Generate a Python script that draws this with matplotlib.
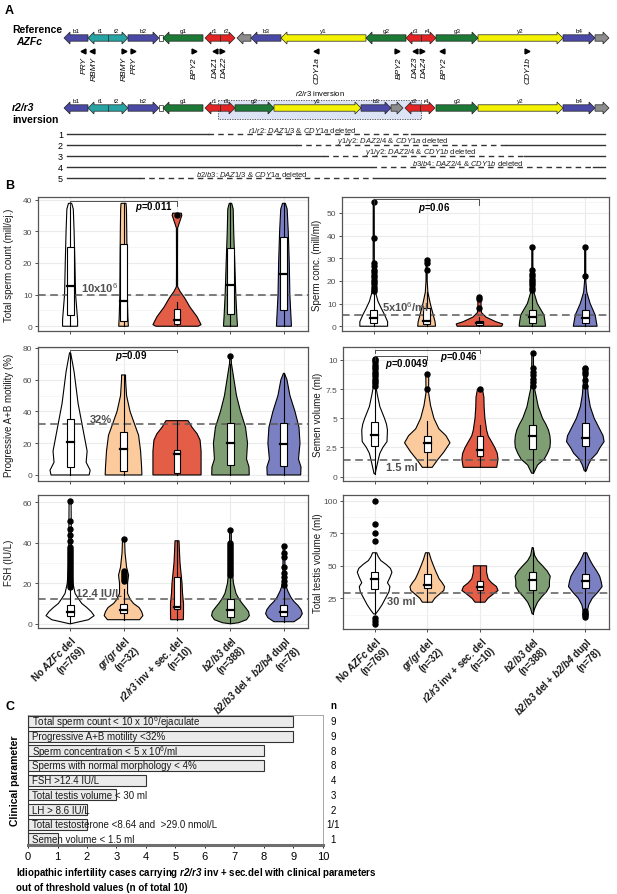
import numpy as np
import matplotlib
matplotlib.use('Agg')
import matplotlib.pyplot as plt
from matplotlib.patches import Polygon, Rectangle

plt.rcParams['font.family'] = ['Liberation Sans', 'DejaVu Sans']
plt.rcParams['mathtext.fontset'] = 'custom'
plt.rcParams['mathtext.rm'] = 'Liberation Sans'
plt.rcParams['mathtext.it'] = 'Liberation Sans:italic'
plt.rcParams['mathtext.bf'] = 'Liberation Sans:bold'
plt.rcParams['mathtext.bfit'] = 'Liberation Sans:italic:bold'

# ---------------- panel A: AZFc structure (schematic coordinates) ----------------
ROW1 = [('b1', 64, 88, 'b', 'L'), ('t1|t2', 88, 128, 't', 'LR'), ('b2', 128, 159, 'b', 'R'),
        ('', 159, 163, 'w', 'box'), ('g1', 163, 203, 'g', 'L'), ('r1|r2', 205, 235, 'r', 'LR'),
        ('', 237, 251, 'k', 'L'), ('b3', 251, 281, 'b', 'L'), ('y1', 281, 366, 'y', 'L'),
        ('g2', 366, 406, 'g', 'L'), ('r3|r4', 406, 436, 'r', 'LR'), ('g3', 436, 478, 'g', 'R'),
        ('y2', 478, 563, 'y', 'R'), ('b4', 563, 595, 'b', 'R'), ('', 595, 609, 'k', 'R')]
ROW2 = [('b1', 64, 88, 'b', 'L'), ('t1|t2', 88, 128, 't', 'LR'), ('b2', 128, 159, 'b', 'R'),
        ('', 159, 163, 'w', 'box'), ('g1', 163, 203, 'g', 'L'), ('r1|r3', 205, 235, 'r', 'LR'),
        ('g2', 235, 274, 'g', 'R'), ('y1', 274, 361, 'y', 'R'), ('b3', 361, 391, 'b', 'R'),
        ('', 391, 403, 'k', 'R'), ('r2|r4', 405, 435, 'r', 'LR'), ('g3', 436, 478, 'g', 'R'),
        ('y2', 478, 563, 'y', 'R'), ('b4', 563, 595, 'b', 'R'), ('', 595, 609, 'k', 'R')]
GENE_X = [84, 94, 124, 134, 194, 215, 224, 317, 399, 415, 424, 444, 528]
GENE_NAMES = ['PRY', 'RBMY', 'RBMY', 'PRY', 'BPY2', 'DAZ1', 'DAZ2', 'CDY1a', 'BPY2',
              'DAZ3', 'DAZ4', 'BPY2', 'CDY1b']
TRI_X = [83, 92, 124, 133, 194, 215, 222, 316, 397, 415, 422, 442, 527]
TRI_DIR = ['<', '<', '>', '>', '>', '<', '>', '<', '>', '<', '>', '<', '>']
INV_START, INV_END = 218, 421

DEL_ID = ['1', '2', '3', '4', '5']
DEL_START = [208, 296, 323, 371, 139]
DEL_END = [411, 506, 524, 593, 373]
DEL_LABX = [302, 393, 421, 468, 252]
DEL_TEXT = [r'$\mathit{r1/r2}$: $\mathit{DAZ1/3}$ & $\mathit{CDY1a}$ deleted',
            r'$\mathit{y1/y2}$: $\mathit{DAZ2/4}$ & $\mathit{CDY1a}$ deleted',
            r'$\mathit{y1/y2}$: $\mathit{DAZ2/4}$ & $\mathit{CDY1b}$ deleted',
            r'$\mathit{b3/b4}$: $\mathit{DAZ2/4}$ & $\mathit{CDY1b}$ deleted',
            r'$\mathit{b2/b3}$: $\mathit{DAZ1/3}$ & $\mathit{CDY1a}$ deleted']

GROUPS = [r'No $\mathbfit{AZFc}$ del' + '\n(n=769)', r'$\mathbfit{gr/gr}$ del' + '\n(n=32)',
          r'$\mathbfit{r2/r3}$ inv + sec. del' + '\n(n=10)', r'$\mathbfit{b2/b3}$ del' + '\n(n=388)',
          r'$\mathbfit{b2/b3}$ del + $\mathbfit{b2/b4}$ dupl' + '\n(n=78)']
GROUP_COLORS = ['#FFFFFF', '#FBCA9D', '#E35D47', '#809E73', '#7B80C3']

TSC_Y = [[0, 2, 10, 20, 30, 37, 38.8], [0, 3, 10, 20, 30, 37, 38.8],
         [0, 0.5, 3, 6, 9, 11, 12.5, 20, 31, 33, 35, 35.7],
         [0, 3, 10, 20, 30, 37, 38.8], [0, 3, 10, 20, 30, 37, 38.8]]
TSC_D = [[7.5, 7.5, 5.5, 4.8, 4, 3.2, 1.6], [4.8, 4.3, 3.7, 3.5, 3.2, 2.9, 2.5],
         [21, 24, 20, 13, 7.5, 3, 0.6, 0.5, 0.6, 2.7, 4.8, 4.3],
         [7, 6.4, 5.3, 4.3, 3.2, 2.7, 1.2], [7.5, 7, 5.9, 5.3, 4.3, 3.2, 1.4]]
TSC_BOX = [(0, 3.7, 12.8, 25, 38.8), (0, 1.5, 8, 26, 38.8), (0.5, 0.8, 2, 5.5, 7.5),
           (0, 4, 13, 24.8, 38.8), (0, 5, 16.5, 28.2, 38.8)]
TSC_OUT = [[], [], [35], [], []]

CONC_Y = [[0, 2, 5, 8, 11, 14, 17, 30, 55], [0, 2, 5, 10, 15, 20, 29],
          [0, 1, 2, 4, 6, 8, 10, 12, 13], [0, 2, 5, 10, 15, 20, 35], [0, 2, 5, 10, 15, 20, 35]]
CONC_D = [[14, 14, 11, 7.5, 4.3, 2.4, 0.8, 0.6, 0.5], [9, 8.5, 6.7, 3.7, 1.3, 0.6, 0.5],
          [22.5, 23.5, 16.5, 6.7, 2.1, 1.6, 1.6, 1.6, 0.5], [13.3, 12.8, 11.7, 5, 1.6, 0.6, 0.5],
          [12, 11.2, 10, 5, 1.6, 0.6, 0.5]]
CONC_BOX = [(0, 1.5, 3.5, 7, 14), (0, 1, 2.5, 8, 15), (0, 0.5, 1.5, 2.5, 4),
            (0, 1.5, 4, 7, 15), (0, 1.5, 3.5, 7, 14)]
CONC_OUT = [[15.5, 16.5, 17.5, 18.5, 19.5, 20.5, 21.5, 22.5, 24, 25, 26.5, 28, 39, 55],
            [25, 28, 29], [8, 12, 13], [16, 17, 18, 19, 20, 21, 22, 23, 25, 35], [22, 35]]

MOT_Y = [[0, 3, 8, 15, 25, 35, 45, 55, 65, 72, 77], [0, 5, 15, 25, 32, 40, 50, 60, 63],
         [0, 15, 22, 26, 30, 34.2], [0, 5, 10, 20, 30, 40, 50, 60, 70, 75],
         [0, 5, 10, 20, 30, 40, 50, 60, 64]]
MOT_D = [[19, 20, 16, 17, 14, 11, 8, 6, 4, 2, 0.5], [18.3, 18, 17, 15, 11, 6.5, 3, 2, 2],
         [24, 24, 23, 20, 15, 11], [18.7, 18.5, 16, 17, 15, 10, 6, 3.5, 1, 0.5],
         [16.7, 17, 14.5, 16, 15, 11, 6, 3, 0.5]]
MOT_BOX = [(0, 5, 21, 35, 77), (0, 2.5, 16.5, 27, 63), (0, 1.5, 13, 16, 34.2),
           (0, 6, 20, 33, 70), (0, 5.5, 19.5, 33, 64)]
MOT_OUT = [[], [], [], [75], []]

VOL_Y = [[0.25, 1, 1.5, 2, 2.5, 3, 3.5, 4, 4.5, 5, 6, 7, 7.5, 8.5, 10.1],
         [0.8, 1.4, 2.1, 2.9, 3.5, 4.1, 5, 6.1, 7.2, 8.8],
         [0.8, 1.5, 2, 2.5, 3, 3.5, 4, 5, 6, 6.8, 7.5],
         [0.3, 1, 1.5, 2, 2.5, 3, 3.5, 4, 4.5, 5, 6, 7, 7.5, 8.5, 10.6],
         [0.5, 1, 1.5, 2, 2.5, 3, 3.5, 4, 4.5, 5, 6, 7, 8, 9.3]]
VOL_D = [[0.5, 2.5, 3.8, 5.3, 8.3, 12.5, 12.8, 13, 12, 10, 5.3, 2.8, 1.7, 1, 0.8],
         [5, 10, 16.7, 23, 19, 11.7, 6.7, 3.3, 1.3, 1.5],
         [17, 18.3, 17.5, 15, 11.7, 8.3, 6.7, 5, 4.2, 4, 2.5],
         [1, 5, 11.7, 15, 17.5, 18, 17.5, 16, 13.3, 10, 5.7, 3.3, 2, 1, 0.8],
         [1, 3, 6, 11.7, 15, 19, 18, 15, 12, 9, 5, 3, 2, 1]]
VOL_BOX = [(0.25, 2.6, 3.6, 4.7, 7.6), (0.8, 2.1, 2.9, 3.5, 4.8), (0.8, 1.8, 2.3, 3.5, 4.4),
           (0.3, 2.4, 3.5, 4.4, 7.5), (0.5, 2.6, 3.3, 4.6, 7.5)]
VOL_OUT = [[7.8, 8.0, 8.2, 8.4, 8.6, 8.8, 9.0, 9.2, 9.4, 9.6, 9.8, 10.0, 10.1], [7.5, 8.8], [7.5],
           [7.8, 8.1, 8.4, 8.7, 9.0, 9.3, 10.6], [7.8, 8.3, 8.8, 9.0, 9.2, 9.3]]

FSH_Y = [[0, 0.5, 2, 4, 6, 8, 10, 12.4, 15, 20, 30, 45, 60.5],
         [2, 4, 6, 8, 10, 12, 15, 20, 24, 28, 35, 42],
         [2, 5, 10, 15, 20, 25, 30, 35, 41],
         [0, 0.5, 2, 4, 6, 8, 10, 12.4, 15, 20, 25, 35, 46.5],
         [1, 3, 5, 7, 9, 11, 13, 16, 18, 22, 30, 38.5]]
FSH_D = [[0.5, 5, 18.3, 24, 21, 16.7, 11.7, 8.3, 5, 2.8, 1.5, 1.2, 1],
         [16, 19.3, 18, 15.5, 10, 6.7, 4, 4, 5, 3, 1.5, 1],
         [6.3, 6.5, 6.5, 5.5, 5, 4, 3, 2.5, 2],
         [0.5, 8, 16, 18.8, 18, 15, 11.7, 8.3, 5.5, 3, 2, 1, 0.8],
         [10, 16, 18.3, 17, 14, 10, 7, 4, 2.5, 1, 1, 0.8]]
FSH_BOX = [(0.5, 4, 6, 9.5, 17), (2, 5.5, 7, 10, 17), (2, 7.5, 8.5, 23, 41),
           (0.5, 3.5, 7, 12, 23), (1, 4, 6, 9.5, 18)]
FSH_OUT = [[18, 19, 20, 21, 22, 23, 24, 25, 26, 27, 28, 29, 30, 31, 32, 33, 34, 35, 36, 37, 38,
            41, 44, 47, 51, 60.5],
           [21, 22, 23, 24, 25, 26, 42], [],
           [24, 25, 26, 27, 28, 29, 30, 31, 32, 33, 34, 35, 36, 37, 38, 39, 40, 46.5],
           [19, 21, 23, 25, 28, 33, 35, 38.5]]

TV_Y = [[13, 16, 20, 25, 30, 34, 37, 41, 45, 48, 51, 54, 57, 60],
        [22, 25, 28, 31, 34, 37, 40, 45, 50, 55, 60],
        [22, 25, 28, 31, 34, 37, 40, 45, 50],
        [13, 17, 22, 26, 30, 34, 38, 42, 46, 50, 54, 58, 64],
        [11, 15, 20, 25, 30, 34, 38, 42, 46, 50, 54, 58, 60]]
TV_D = [[1, 4, 7.5, 11, 14.5, 15.5, 13, 15.5, 17.5, 16, 11.7, 6.3, 3.7, 2],
        [5, 7.5, 12, 16.7, 17.5, 15, 12, 9, 6.3, 3.8, 1.8],
        [5, 8, 13, 18.3, 16.7, 11.7, 8.3, 6.7, 6.7],
        [0.5, 2, 5, 9, 14, 17, 17, 17.8, 14.7, 10, 5, 2, 0.5],
        [1, 2, 3.5, 7, 13, 17, 16, 14.5, 11.5, 8, 5, 2.5, 1.5]]
TV_BOX = [(13, 32, 40, 45.5, 60), (22, 33, 35, 44, 60), (22, 31, 34, 38, 50),
          (13, 31, 39, 45, 64), (16, 33, 38, 44, 60)]
TV_OUT = [[5, 7.5, 10, 69, 75, 82, 100], [], [], [], [11, 12, 13, 14, 15]]

# ---------------- panel C ----------------
C_LABELS = ['Total sperm count < 10 x 10$^6$/ejaculate', 'Progressive A+B motility <32%',
            'Sperm concentration < 5 x 10$^6$/ml', 'Sperms with normal morphology < 4%',
            'FSH >12.4 IU/L', 'Total testis volume < 30 ml', 'LH > 8.6 IU/L',
            'Total testosterone <8.64 and  >29.0 nmol/L', 'Semen volume < 1.5 ml']
C_VALUES = [9, 9, 8, 8, 4, 3, 2, 2, 1]
C_N = ['9', '9', '8', '8', '4', '3', '2', '1/1', '1']

W, H = 617, 895
fig = plt.figure(figsize=(W / 100, H / 100), dpi=100)


def px_axes(x0, y0, x1, y1):
    return fig.add_axes([x0 / W, 1 - y1 / H, (x1 - x0) / W, (y1 - y0) / H])


ov = fig.add_axes([0, 0, 1, 1])
ov.set_xlim(0, W)
ov.set_ylim(H, 0)
ov.axis('off')
ov.patch.set_visible(False)

SEG_COL = {'b': '#4A4AA6', 't': '#27A3A3', 'g': '#1C7A36', 'r': '#E32424', 'y': '#F3F200',
           'k': '#8C8C8C', 'w': '#FFFFFF'}


def gene_arrow(ax, x0, x1, y, col, kind):
    h, hh, hl = 3.2, 6.0, 6.0
    if kind == 'R':
        pts = [(x0, y - h), (x1 - hl, y - h), (x1 - hl, y - hh), (x1, y), (x1 - hl, y + hh),
               (x1 - hl, y + h), (x0, y + h)]
    elif kind == 'L':
        pts = [(x1, y - h), (x0 + hl, y - h), (x0 + hl, y - hh), (x0, y), (x0 + hl, y + hh),
               (x0 + hl, y + h), (x1, y + h)]
    elif kind == 'LR':
        pts = [(x0, y), (x0 + hl, y - hh), (x0 + hl, y - h), (x1 - hl, y - h), (x1 - hl, y - hh),
               (x1, y), (x1 - hl, y + hh), (x1 - hl, y + h), (x0 + hl, y + h), (x0 + hl, y + hh)]
    else:
        pts = [(x0, y - h), (x1, y - h), (x1, y + h), (x0, y + h)]
    ax.add_patch(Polygon(pts, closed=True, fc=SEG_COL[col], ec='#222222', lw=0.5, zorder=3))
    if kind == 'LR':
        xm = (x0 + x1) / 2
        ax.plot([xm, xm], [y - h, y + h], color='#222222', lw=0.5, zorder=4)


def draw_row(ax, row, y):
    for name, x0, x1, col, kind in row:
        gene_arrow(ax, x0, x1, y, col, kind)
        if not name:
            continue
        parts = name.split('|')
        if len(parts) == 1:
            ax.text((x0 + x1) / 2, y - 5.0, name, fontsize=4.5, ha='center', va='bottom', zorder=5)
        else:
            for frac, p in zip([0.3, 0.72], parts):
                ax.text(x0 + (x1 - x0) * frac, y - 5.0, p, fontsize=4.5, ha='center',
                        va='bottom', zorder=5)


ov.text(5, 11, 'A', fontsize=9, fontweight='bold', va='center')
ov.text(12, 30, 'Reference', fontsize=7.5, fontweight='bold', va='center')
ov.text(16, 42, 'AZFc', fontsize=7.5, fontweight='bold', style='italic', va='center')
draw_row(ov, ROW1, 39)
for x, d in zip(TRI_X, TRI_DIR):
    ov.plot(x, 52, marker=d, color='black', ms=3.5, ls='none')
for x, g in zip(GENE_X, GENE_NAMES):
    ov.text(x, 57, g, fontsize=6, style='italic', rotation=90, ha='center', va='top')

ov.text(12, 108, 'r2/r3', fontsize=7.5, fontweight='bold', style='italic', va='center')
ov.text(12, 120, 'inversion', fontsize=7.5, fontweight='bold', va='center')
ov.add_patch(Rectangle((INV_START, 101), INV_END - INV_START, 19, fc='#DCE3F4', ec='#444444',
                       lw=0.6, ls=(0, (1.5, 1.5)), zorder=1))
ov.text((INV_START + INV_END) / 2, 93.5, r'$\mathit{r2/r3}$ inversion', fontsize=5.5,
        ha='center', va='center')
draw_row(ov, ROW2, 109)

for i, (lab, s, e, lx, txt) in enumerate(zip(DEL_ID, DEL_START, DEL_END, DEL_LABX, DEL_TEXT)):
    yy = 135 + i * 11
    ov.text(63, yy, lab, fontsize=6.5, ha='right', va='center')
    ov.plot([67, s], [yy, yy], color='#333333', lw=1.0)
    ov.plot([s, e], [yy, yy], color='#333333', lw=1.0, ls=(0, (4, 3)))
    ov.plot([e, 605], [yy, yy], color='#333333', lw=1.0)
    ov.text(lx, yy - 4.5, txt, fontsize=5.5, ha='center', va='center', color='#222222')

ov.text(5, 186, 'B', fontsize=9, fontweight='bold', va='center')
ov.text(5, 707, 'C', fontsize=9, fontweight='bold', va='center')

PX_PER_CAT = 53.3
BOX_HW = 0.065


def violin_panel(ax, ys, ds, boxes, outs, ylim, yticks, ylabels, minors, thr, thr_txt,
                 thr_xy, ylabel, label_x, show_x):
    for i in range(5):
        c = i + 1
        y = np.array(ys[i], dtype=float)
        w = np.array(ds[i], dtype=float) / PX_PER_CAT
        xs = np.concatenate([c - w, (c + w)[::-1]])
        yv = np.concatenate([y, y[::-1]])
        ax.fill(xs, yv, fc=GROUP_COLORS[i], ec='black', lw=0.8, zorder=2)
        lo, q1, med, q3, hi = boxes[i]
        ax.plot([c, c], [lo, hi], color='black', lw=0.8, zorder=3)
        ax.add_patch(Rectangle((c - BOX_HW, q1), 2 * BOX_HW, q3 - q1, fc='white', ec='black',
                               lw=0.8, zorder=4))
        ax.plot([c - BOX_HW, c + BOX_HW], [med, med], color='black', lw=1.6, zorder=5)
        if outs[i]:
            ax.plot([c] * len(outs[i]), outs[i], 'o', color='black', ms=3.6, zorder=6)
    ax.axhline(thr, color='#5A5A5A', lw=1.1, ls=(0, (5, 3)), zorder=2.5)
    ax.text(thr_xy[0], thr_xy[1], thr_txt, fontsize=8, fontweight='bold', color='#505050',
            ha='left', va='center', zorder=7)
    ax.set_xlim(0.4, 5.45)
    ax.set_ylim(*ylim)
    ax.set_xticks(range(1, 6))
    ax.set_yticks(yticks)
    ax.set_yticklabels(ylabels)
    ax.set_yticks(minors, minor=True)
    ax.set_axisbelow(True)
    ax.grid(which='major', color='#EBEBEB', lw=0.8)
    ax.grid(which='minor', axis='y', color='#F3F3F3', lw=0.5)
    ax.tick_params(which='minor', length=0)
    ax.tick_params(which='major', length=2.5, width=0.6, color='#333333', labelsize=6,
                   labelcolor='#4D4D4D', pad=1.5)
    for sp in ax.spines.values():
        sp.set_color('#555555')
        sp.set_linewidth(0.9)
    ax.set_ylabel(ylabel, fontsize=7, color='#1A1A1A')
    ax.yaxis.set_label_coords(label_x, 0.5)
    if show_x:
        ax.set_xticklabels(GROUPS, rotation=45, ha='right', va='top', rotation_mode='anchor',
                           fontsize=7, fontweight='bold', color='#1A1A1A')
    else:
        ax.set_xticklabels([])


def bracket(ax, x1, x2, ybar, ytick, txt, tx, ty):
    ax.plot([x1, x1, x2, x2], [ytick, ybar, ybar, ytick], color='#333333', lw=0.6, zorder=7)
    ax.text(tx, ty, txt, fontsize=7, fontweight='bold', ha='center', va='center', zorder=8)


ax1 = px_axes(38, 198, 308, 332)
violin_panel(ax1, TSC_Y, TSC_D, TSC_BOX, TSC_OUT, (-1.5, 40.8), [0, 10, 20, 30, 40],
             ['0', '10', '20', '30', '40'], [5, 15, 25, 35], 10, '10x10$^6$', (1.2, 12.3),
             'Total sperm count (mill/ej.)', -0.089, False)
bracket(ax1, 1, 3, 39.5, 38.0, r'$\mathbfit{p}$=0.011', 2.56, 37.9)

ax2 = px_axes(342, 198, 609, 332)
violin_panel(ax2, CONC_Y, CONC_D, CONC_BOX, CONC_OUT, (-2.1, 57), [0, 10, 20, 30, 40, 50],
             ['0', '10', '20', '30', '40', '50'], [5, 15, 25, 35, 45, 55], 5,
             '5x10$^6$/ml', (1.15, 9.1), 'Sperm conc. (mill/ml)', -0.075, False)
bracket(ax2, 1, 3, 56, 53.5, r'$\mathbfit{p}$=0.06', 2.15, 52.6)

ax3 = px_axes(38, 348, 308, 482)
violin_panel(ax3, MOT_Y, MOT_D, MOT_BOX, MOT_OUT, (-3.8, 80.6), [0, 20, 40, 60, 80],
             ['0', '20', '40', '60', '80'], [10, 30, 50, 70], 32, '32%', (1.36, 35.3),
             'Progressive A+B motility (%)', -0.089, False)
bracket(ax3, 1, 3, 78.7, 77.3, r'$\mathbfit{p}$=0.09', 2.15, 75.4)

ax4 = px_axes(343, 348, 609, 482)
violin_panel(ax4, VOL_Y, VOL_D, VOL_BOX, VOL_OUT, (-0.37, 11.1), [0, 2.5, 5, 7.5, 10],
             ['0', '2.5', '5', '7.5', '10'], [1.25, 3.75, 6.25, 8.75], 1.4, '1.5 ml',
             (1.22, 0.8), 'Semen volume (ml)', -0.075, False)
bracket(ax4, 1, 2, 10.37, 10.0, r'$\mathbfit{p}$=0.0049', 1.6, 9.74)
bracket(ax4, 1, 3, 10.88, 10.6, r'$\mathbfit{p}$=0.046', 2.6, 10.37)

ax5 = px_axes(38, 496, 308, 629)
violin_panel(ax5, FSH_Y, FSH_D, FSH_BOX, FSH_OUT, (-2.1, 63.6), [0, 20, 40, 60],
             ['0', '20', '40', '60'], [10, 30, 50], 12.4, '12.4 IU/L', (1.11, 15.4),
             'FSH (IU/L)', -0.089, True)

ax6 = px_axes(343, 496, 609, 630)
violin_panel(ax6, TV_Y, TV_D, TV_BOX, TV_OUT, (1.4, 104.4), [25, 50, 75, 100],
             ['25', '50', '75', '100'], [12.5, 37.5, 62.5, 87.5], 29, '30 ml', (1.24, 23.2),
             'Total testis volume (ml)', -0.075, True)

# ---------------- panel C ----------------
axc = px_axes(28, 716, 323, 846)
ypos = np.arange(len(C_VALUES))
axc.barh(ypos, C_VALUES, height=0.75, color='#EBEBEB', edgecolor='#333333', lw=0.8)
for yy, lab in zip(ypos, C_LABELS):
    axc.text(0.13, yy, lab, fontsize=7, va='center', ha='left',
             family=['Liberation Sans Narrow', 'Liberation Sans'], color='#1A1A1A')
for yy, n in zip(ypos, C_N):
    axc.text(1.034, yy, n, transform=axc.get_yaxis_transform(), fontsize=7, ha='center',
             va='center', clip_on=False)
axc.text(1.034, -1.1, 'n', transform=axc.get_yaxis_transform(), fontsize=7, ha='center',
         va='center', fontweight='bold', clip_on=False)
axc.set_xlim(0, 10)
axc.set_ylim(8.41, -0.43)
axc.set_xticks(range(11))
axc.set_yticks([])
axc.tick_params(axis='x', length=2.5, width=0.6, labelsize=8, pad=1.5)
axc.spines['top'].set_color('#999999')
axc.spines['right'].set_color('#999999')
axc.spines['top'].set_linewidth(0.6)
axc.spines['right'].set_linewidth(0.6)
axc.spines['left'].set_color('#333333')
axc.spines['bottom'].set_color('#6E6E6E')
axc.spines['bottom'].set_linewidth(2.2)
axc.set_ylabel('Clinical parameter', fontsize=7.5, fontweight='bold')
axc.yaxis.set_label_coords(-0.027, 0.5)
ov.text(16, 866, 'Idiopathic infertility cases carrying $\\mathbfit{r2/r3}$ inv + sec.del '
        'with clinical parameters\nout of threshold values (n of total 10)', fontsize=7,
        fontweight='bold', ha='left', va='top', linespacing=1.35)

fig.savefig('out.png', dpi=100)
